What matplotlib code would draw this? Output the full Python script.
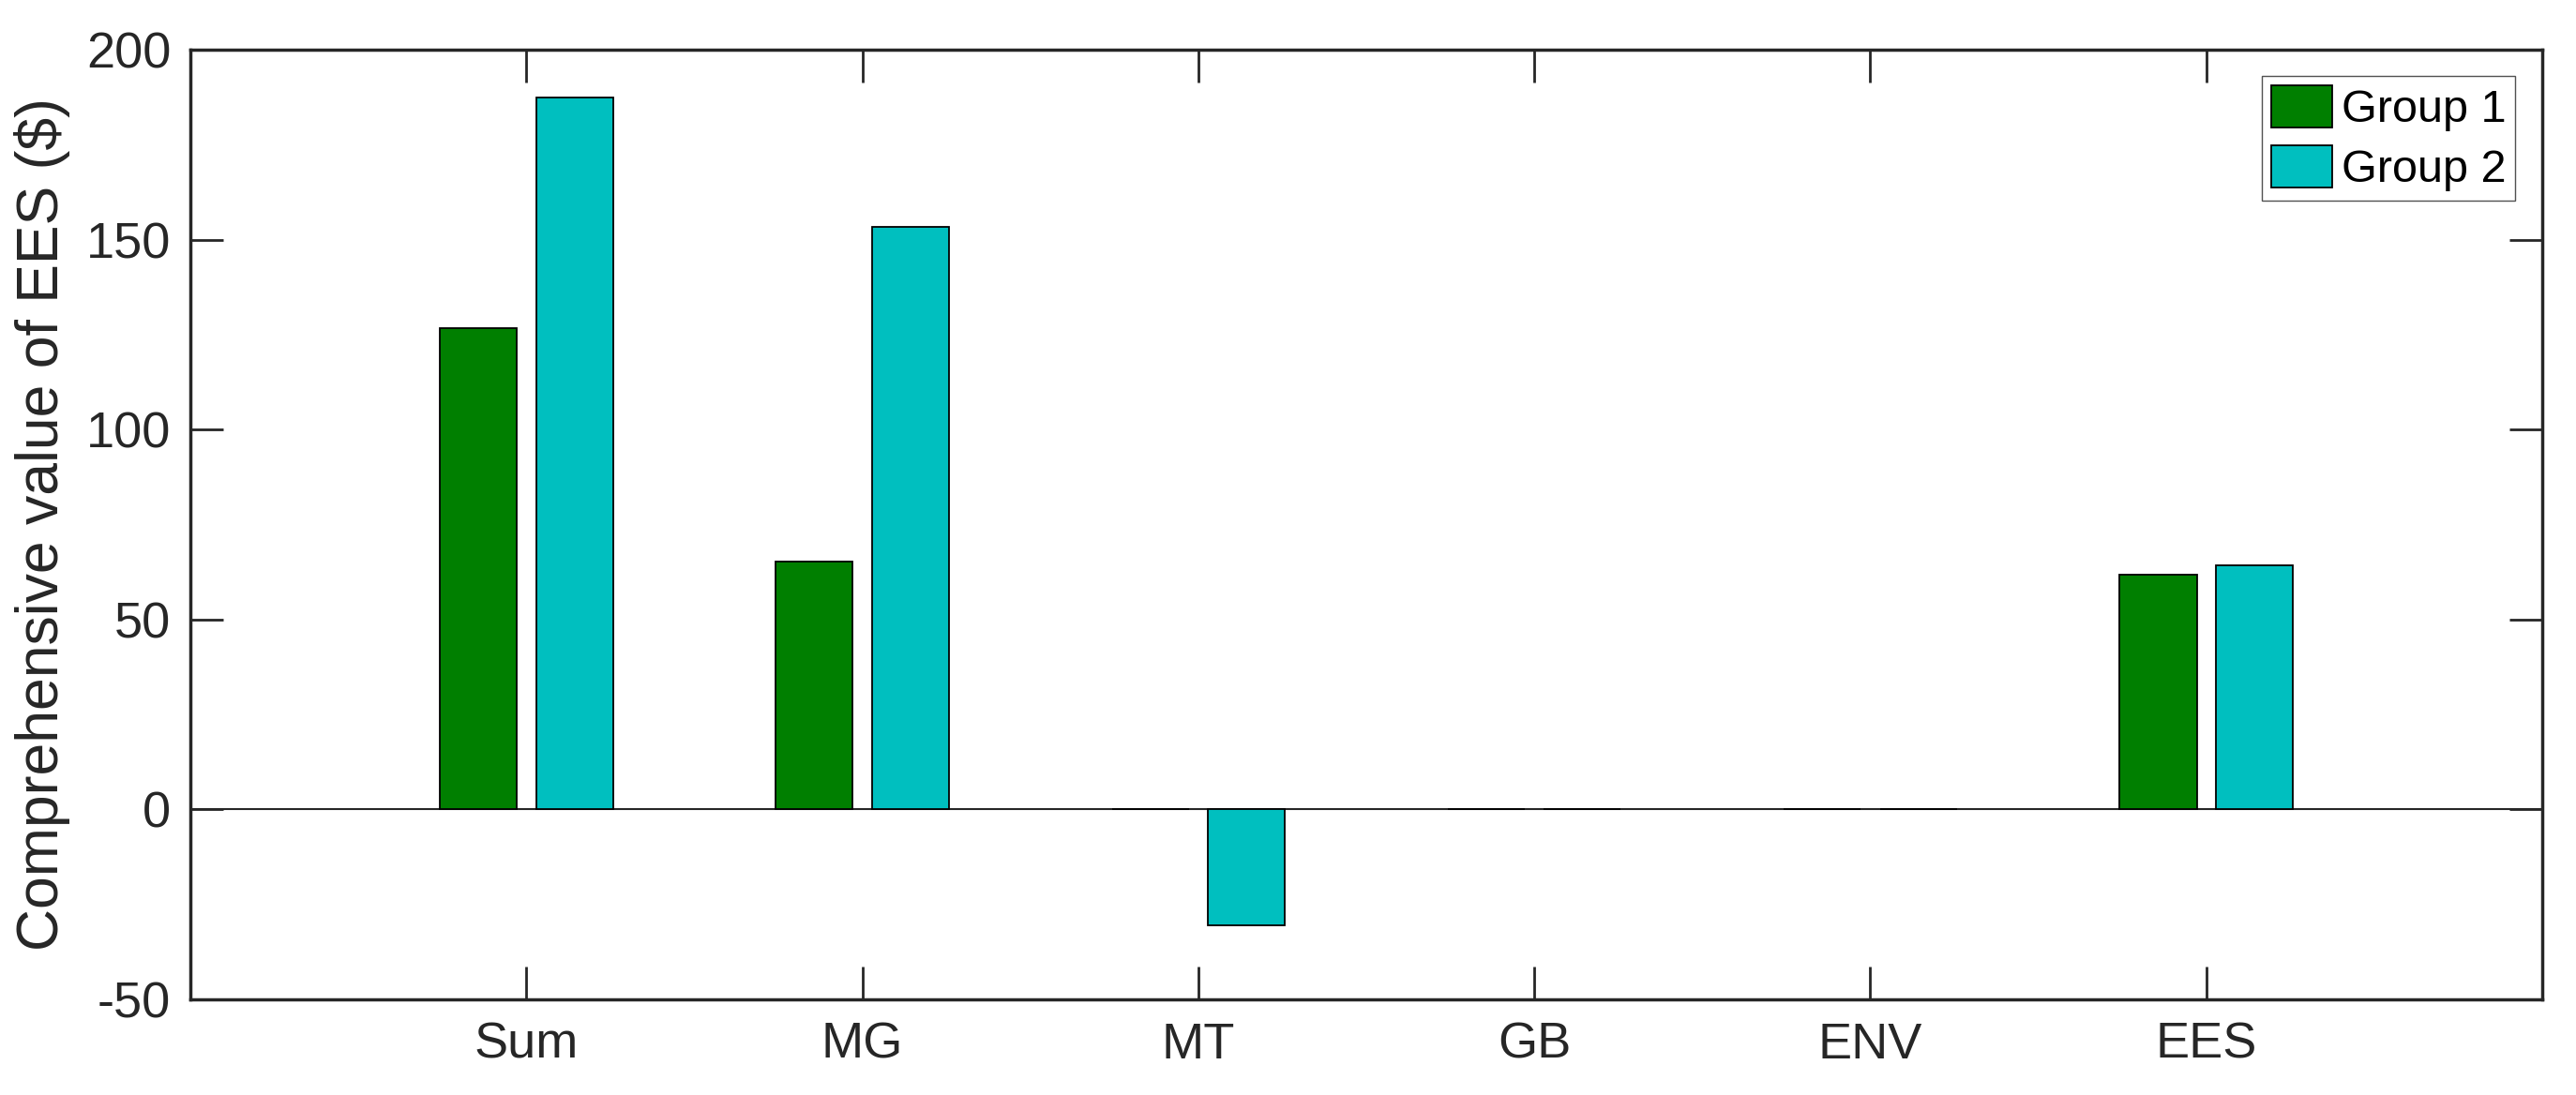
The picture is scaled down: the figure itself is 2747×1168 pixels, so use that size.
import matplotlib.pyplot as plt
import numpy as np

categories = ['Sum', 'MG', 'MT', 'GB', 'ENV', 'EES']
group1 = [126.8, 65.2, 0, 0, 0, 61.7]
group2 = [187.5, 153.4, -30.5, 0, 0, 64.2]
series_labels = ['Group 1', 'Group 2']
y_ticks = [-50, 0, 50, 100, 150, 200]

plt.rcParams['font.family'] = ['Liberation Sans', 'DejaVu Sans']
plt.rcParams['axes.unicode_minus'] = False


def plot_ees_value():
    fig = plt.figure(figsize=(27.47, 11.68), dpi=100)
    ax = fig.add_axes([0.0739, 0.0873, 0.913, 0.8673])

    x = np.arange(1, len(categories) + 1)
    width = 0.229
    ax.bar(x - 0.143, group1, width, color='#007F00', edgecolor='black',
           linewidth=1.3, label=series_labels[0], zorder=3)
    ax.bar(x + 0.143, group2, width, color='#00BFBF', edgecolor='black',
           linewidth=1.3, label=series_labels[1], zorder=3)
    ax.axhline(0, color='#262626', linewidth=1.5, zorder=2)

    ax.set_xlim(0, 7)
    ax.set_ylim(-50, 200)
    ax.set_xticks(x)
    ax.set_xticklabels(categories)
    ax.set_yticks(y_ticks)
    ax.tick_params(direction='in', length=25, width=2, colors='#262626',
                   labelsize=39, top=True, right=True)
    ax.tick_params(axis='x', pad=17)
    ax.tick_params(axis='y', pad=15)
    for spine in ax.spines.values():
        spine.set_linewidth(2.5)
        spine.set_color('#262626')

    ax.set_ylabel('Comprehensive value of EES ($)', fontsize=45, labelpad=12,
                  color='#262626')

    ax.legend(loc='upper right', bbox_to_anchor=(0.9884, 0.9724), fontsize=35,
              frameon=True, fancybox=False, edgecolor='#262626',
              handlelength=1.34, handleheight=1.06, handletextpad=0.2,
              borderpad=0.2, labelspacing=0.3, borderaxespad=0)

    plt.savefig('out.png', dpi=100)


def main():
    plot_ees_value()


if __name__ == '__main__':
    main()
